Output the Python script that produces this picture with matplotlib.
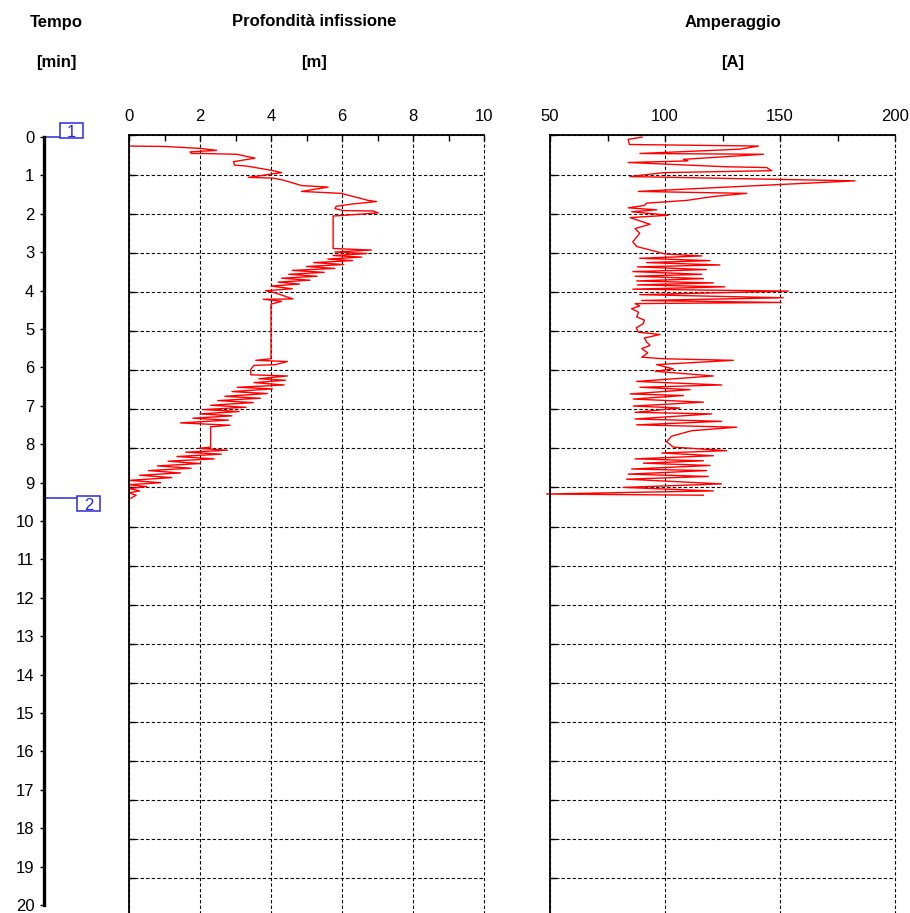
import matplotlib

matplotlib.use("Agg")
import matplotlib.pyplot as plt
from matplotlib import transforms
from matplotlib.patches import Rectangle
from matplotlib.ticker import MultipleLocator

plt.rcParams["font.family"] = ["Liberation Sans", "DejaVu Sans"]
TICK_FONT = ["Liberation Sans Narrow", "Liberation Sans", "DejaVu Sans"]

W, H = 910, 913

# depth trace: time (plot units) vs depth [m]
depth_time = [
    0.27, 0.28, 0.33, 0.38, 0.42, 0.46, 0.46, 0.48, 0.58, 0.67, 0.76, 0.78,
    0.89, 0.95, 0.99, 1.03, 1.07, 1.09, 1.14, 1.28, 1.32, 1.43, 1.48, 1.66,
    1.69, 1.75, 1.81, 1.87, 1.92, 1.93, 1.98, 2.06, 2.89, 2.93,
    2.98, 3.02, 3.07, 3.11, 3.16, 3.20, 3.25, 3.30, 3.35, 3.40, 3.45, 3.50,
    3.55, 3.60, 3.65, 3.70, 3.75, 3.80, 3.85, 3.92, 3.97, 4.02, 4.18, 4.19,
    4.24, 4.30, 4.31, 5.71, 5.75, 5.78, 5.86, 5.88, 5.98, 6.12, 6.15, 6.22,
    6.26, 6.32, 6.38, 6.44, 6.48, 6.55, 6.60, 6.67, 6.72, 6.78, 6.83, 6.90,
    6.95, 7.01, 7.06, 7.12, 7.17, 7.23, 7.28, 7.35, 7.41, 7.45, 7.97, 8.00,
    8.05, 8.10, 8.15, 8.21, 8.27, 8.33, 8.39, 8.45, 8.51, 8.57, 8.63, 8.69,
    8.75, 8.82, 8.88, 8.93, 8.98, 9.03, 9.09, 9.14, 9.20, 9.28,
]
depth_m = [
    0.0, 1.0, 2.0, 2.47, 1.72, 1.76, 2.05, 3.03, 3.55, 2.94, 2.98, 3.3,
    4.01, 4.3, 3.97, 3.69, 3.36, 4.06, 4.34, 4.86, 5.61, 4.86, 5.98, 6.74,
    6.97, 6.31, 5.84, 5.80, 6.03, 6.88, 7.02, 5.75, 5.75, 6.83,
    5.8, 6.7, 5.75, 6.55, 5.6, 6.3, 5.2, 6.05, 5.0, 5.8, 4.6, 5.5,
    4.5, 5.3, 4.3, 5.1, 4.2, 4.8, 4.0, 4.6, 3.85, 4.1, 4.62, 3.78,
    4.3, 4.06, 4.0, 4.0, 3.57, 4.46, 4.13, 3.52, 3.43, 3.43, 4.46, 3.66,
    4.41, 3.52, 4.37, 3.05, 4.04, 2.9, 3.9, 2.7, 3.7, 2.5, 3.5, 2.3,
    3.3, 2.1, 3.1, 2.0, 2.9, 1.8, 2.8, 1.45, 2.85, 2.3, 2.3, 1.97,
    2.77, 1.6, 2.6, 1.35, 2.4, 1.1, 2.0, 0.8, 1.75, 0.55, 1.45, 0.3,
    1.2, 0.0, 0.9, 0.0, 0.5, 0.0, 0.3, 0.0, 0.2, 0.05,
]

# amperage trace: time (plot units) vs current [A]
amp_time = [
    0.04, 0.10, 0.23, 0.27, 0.35, 0.46, 0.48, 0.61, 0.65, 0.69, 0.80, 0.82, 0.90,
    0.95, 1.05, 1.16, 1.43, 1.48, 1.56, 1.66, 1.73, 1.79, 1.85, 1.90, 1.95,
    2.04, 2.10, 2.27, 2.38, 2.50, 2.72, 2.84, 2.95, 3.03, 3.08, 3.14, 3.20,
    3.25, 3.31, 3.36, 3.43, 3.48, 3.55, 3.60, 3.66, 3.72, 3.77, 3.82, 3.87,
    3.93, 3.98, 4.07, 4.15, 4.22, 4.27, 4.30, 4.36, 4.43, 4.52, 4.64, 4.72,
    4.81, 4.92, 5.03, 5.09, 5.18, 5.28, 5.37, 5.45, 5.56, 5.67, 5.71, 5.75,
    5.86, 5.97, 6.03, 6.15, 6.29, 6.38, 6.44, 6.50, 6.61, 6.65, 6.74, 6.82,
    6.92, 6.97, 7.08, 7.12, 7.25, 7.31, 7.40, 7.46, 7.55, 7.69, 7.83, 7.97,
    8.06, 8.12, 8.19, 8.27, 8.32, 8.38, 8.44, 8.53, 8.57, 8.66, 8.72, 8.79,
    8.91, 9.00, 9.09, 9.13, 9.17, 9.20,
]
amp_a = [
    90.0, 84.0, 84.5, 140.6, 132.6, 89.1, 142.8, 108.0, 110.0, 84.0, 126.8, 144.2, 146.4,
    99.3, 84.8, 182.6, 88.4, 135.5, 121.0, 109.4, 92.0, 91.0, 84.0, 96.4, 85.5,
    101.4, 84.8, 93.5, 87.0, 89.0, 86.0, 87.7, 95.0, 100.0, 116.0, 89.0, 119.6,
    92.0, 123.9, 88.0, 118.0, 86.0, 116.0, 87.0, 116.7, 87.7, 121.0, 88.0, 126.0,
    86.0, 153.6, 89.0, 151.4, 89.9, 150.5, 87.0, 89.0, 85.5, 88.5, 87.7, 91.0,
    90.6, 87.5, 88.4, 97.8, 91.0, 92.0, 93.5, 89.9, 92.5, 89.9, 99.3, 129.7,
    96.4, 103.6, 95.7, 121.0, 87.7, 124.6, 89.1, 110.9, 84.8, 108.0, 86.2, 116.7,
    86.2, 106.5, 87.0, 120.3, 87.0, 124.6, 87.7, 131.2, 111.6, 102.9, 100.7, 103.6,
    126.8, 98.6, 121.0, 87.0, 116.7, 90.6, 119.6, 85.5, 118.1, 84.0, 118.8, 83.3,
    124.6, 81.9, 121.0, 82.6, 48.5, 116.7,
]

time_ticks = list(range(0, 21))
marker_time = [0.0, 9.4]
marker_label = ["1", "2"]
marker_box_left = [60, 77]      # px
marker_box_shift = [6, -6]      # px, box centre above (+) / below (-) the line

RED = "#ff0000"
BLUE = "#2b2bd6"


def px_box(left, top, right, bottom):
    return [left / W, 1 - bottom / H, (right - left) / W, (bottom - top) / H]


fig = plt.figure(figsize=(W / 100, H / 100), dpi=100)

# time axis (thick black line with labels)
ax_t = fig.add_axes(px_box(44, 137, 45, 905))
ax_t.set_ylim(20, 0)
ax_t.set_xlim(0, 1)
for side in ["top", "right", "bottom"]:
    ax_t.spines[side].set_visible(False)
ax_t.spines["left"].set_linewidth(2.4)
ax_t.set_xticks([])
ax_t.set_yticks(time_ticks)
ax_t.tick_params(axis="y", direction="out", length=3, width=1, pad=4, labelsize=12)
for lab in ax_t.get_yticklabels():
    lab.set_family(TICK_FONT)
ax_t.patch.set_visible(False)

trans = transforms.blended_transform_factory(fig.transFigure, ax_t.transData)
for t, label, x0, dy in zip(marker_time, marker_label, marker_box_left, marker_box_shift):
    ax_t.plot([44 / W, x0 / W], [t, t], transform=trans, color=BLUE, lw=1.1, clip_on=False)
    anchor = transforms.ScaledTranslation(x0 / W, t, trans)
    box = Rectangle((0, dy - 7.5), 23, 15, transform=anchor, fc="white", ec=BLUE,
                    lw=1.1, clip_on=False, zorder=4)
    ax_t.add_artist(box)
    ax_t.annotate(label, xy=(x0 / W, t), xycoords=trans, xytext=(11.5, dy),
                  textcoords="offset pixels", ha="center", va="center_baseline",
                  color=BLUE, fontsize=12, family=TICK_FONT, zorder=5)


def style_panel(ax, xmin, xmax, major, minor):
    ax.set_xlim(xmin, xmax)
    ax.set_ylim(20, 0)
    ax.xaxis.tick_top()
    ax.xaxis.set_major_locator(MultipleLocator(major))
    ax.xaxis.set_minor_locator(MultipleLocator(minor))
    ax.yaxis.set_major_locator(MultipleLocator(1))
    ax.tick_params(axis="x", which="both", direction="in", top=True, bottom=False,
                   length=4, width=1, pad=8, labelsize=12)
    ax.tick_params(axis="y", direction="in", left=True, labelleft=False, length=4, width=1)
    for lab in ax.get_xticklabels():
        lab.set_family(TICK_FONT)
    ax.grid(True, which="major", color="black", linestyle=(0, (3, 2)), linewidth=0.8, clip_on=False)
    ax.spines["right"].set_visible(False)
    ax.spines["bottom"].set_visible(False)
    ax.spines["left"].set_linewidth(1.3)
    ax.spines["top"].set_linewidth(1.3)
    ax.set_axisbelow(True)


ax_d = fig.add_axes(px_box(129, 135.5, 484, 917.5))
style_panel(ax_d, 0, 10, 2, 1)
ax_d.plot(depth_m, depth_time, color=RED, lw=1)

ax_a = fig.add_axes(px_box(550, 135.5, 895, 917.5))
style_panel(ax_a, 50, 200, 50, 25)
ax_a.plot(amp_a, amp_time, color=RED, lw=1, clip_on=False)

# headers
headers = [("Tempo", "[min]", 56), ("Profondità infissione", "[m]", 314), ("Amperaggio", "[A]", 733)]
for title, unit, xc in headers:
    fig.text(xc / W, 1 - 22 / H, title, ha="center", va="center", fontsize=12, fontweight="bold")
    fig.text(xc / W, 1 - 63 / H, unit, ha="center", va="center", fontsize=12, fontweight="bold")

fig.savefig("out.png", dpi=100)
